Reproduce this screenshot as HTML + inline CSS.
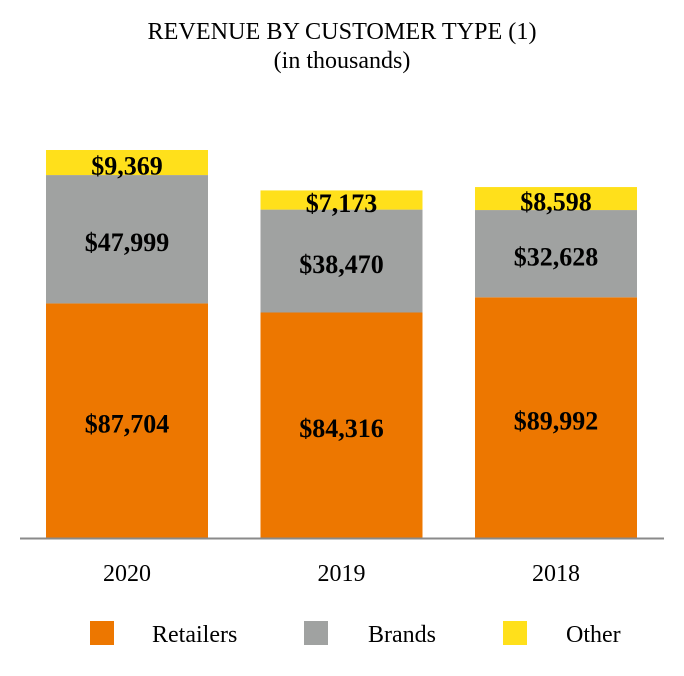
<!DOCTYPE html>
<html><head><meta charset="utf-8"><style>
body{margin:0;background:#fff;}
svg{display:block;font-family:"Liberation Serif",serif;}
</style></head><body>
<svg id="chart" width="684" height="676" viewBox="0 0 684 676">
<text x="342" y="39" text-anchor="middle" font-size="24" textLength="389" lengthAdjust="spacingAndGlyphs">REVENUE BY CUSTOMER TYPE (1)</text>
<text x="342" y="68" text-anchor="middle" font-size="24">(in thousands)</text>
<g id="bars"></g>
<line x1="20" y1="538.5" x2="664" y2="538.5" stroke="#8a8a8a" stroke-width="2"/>
<g>
<rect x="90" y="621" width="24" height="24" fill="#ED7700"/>
<text x="152" y="642" font-size="24">Retailers</text>
<rect x="304" y="621" width="24" height="24" fill="#A0A2A1"/>
<text x="368" y="642" font-size="24">Brands</text>
<rect x="503" y="621" width="24" height="24" fill="#FFE01B"/>
<text x="566" y="642" font-size="24">Other</text>
</g>
</svg>
<script>
const categories = ["2020","2019","2018"];
const retailers = [87704, 84316, 89992];
const brands = [47999, 38470, 32628];
const other = [9369, 7173, 8598];
const series = [
 {name:"retailers", values:retailers, color:"#ED7700"},
 {name:"brands", values:brands, color:"#A0A2A1"},
 {name:"other", values:other, color:"#FFE01B"}
];
const baseY = 538, scale = 388/145072, barW = 162, x0 = 46, step = 214.5;
function yScale(v){ return baseY - v*scale; }
function xPos(i){ return x0 + i*step; }
const g = document.getElementById('bars');
const ns = "http://www.w3.org/2000/svg";
categories.forEach((c,i)=>{
  let cum = 0;
  series.forEach(s=>{
    const v = s.values[i];
    const yTop = yScale(cum+v), yBot = yScale(cum);
    const r = document.createElementNS(ns,'rect');
    r.setAttribute('x', xPos(i)); r.setAttribute('y', yTop);
    r.setAttribute('width', barW); r.setAttribute('height', yBot-yTop);
    r.setAttribute('fill', s.color);
    
    
    g.appendChild(r);
    const t = document.createElementNS(ns,'text');
    t.setAttribute('x', xPos(i)+barW/2); t.setAttribute('y', (yTop+yBot)/2+12);
    t.setAttribute('text-anchor','middle'); t.setAttribute('font-size','26'); t.setAttribute('font-weight','bold');
    t.textContent = '$'+v.toLocaleString('en-US');
    
    
    g.appendChild(t);
    cum += v;
  });
  const l = document.createElementNS(ns,'text');
  l.setAttribute('x', xPos(i)+barW/2); l.setAttribute('y', 581);
  l.setAttribute('text-anchor','middle'); l.setAttribute('font-size','24');
  l.textContent = c;
  
  
  g.appendChild(l);
});
</script>
</body></html>
